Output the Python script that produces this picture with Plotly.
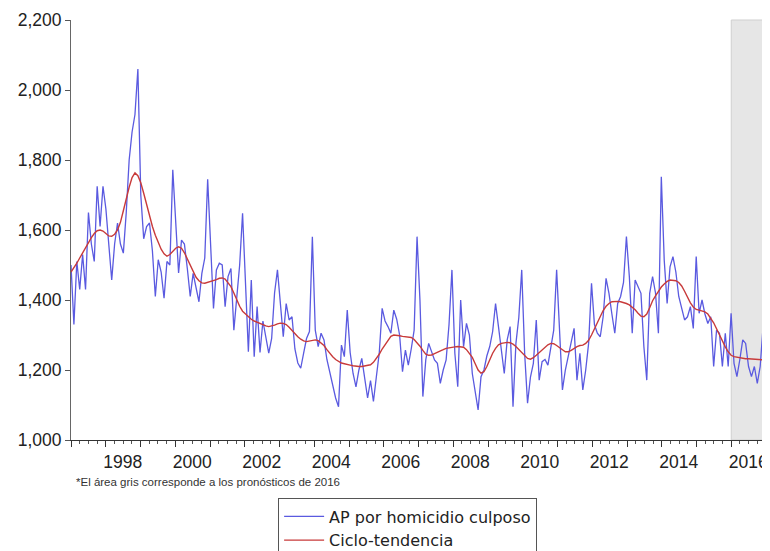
import plotly.graph_objects as go

# Monthly data, Jan 1997 - Dec 2016
years = list(range(1997, 2017))

ap_homicidio = {
    1997: [1500, 1330, 1510, 1430, 1530, 1430, 1650, 1560, 1510, 1725, 1610, 1725],
    1998: [1660, 1560, 1457, 1560, 1620, 1560, 1534, 1650, 1800, 1880, 1930, 2060],
    1999: [1700, 1575, 1610, 1620, 1540, 1410, 1515, 1480, 1405, 1510, 1500, 1772],
    2000: [1620, 1477, 1571, 1560, 1490, 1410, 1476, 1440, 1395, 1476, 1520, 1745],
    2001: [1550, 1376, 1486, 1505, 1500, 1381, 1467, 1490, 1314, 1400, 1500, 1648],
    2002: [1450, 1252, 1457, 1238, 1381, 1250, 1340, 1290, 1248, 1290, 1420, 1486],
    2003: [1380, 1295, 1390, 1343, 1352, 1260, 1220, 1205, 1248, 1290, 1310, 1581],
    2004: [1314, 1267, 1305, 1286, 1230, 1190, 1150, 1120, 1095, 1271, 1238, 1371],
    2005: [1250, 1190, 1152, 1200, 1233, 1180, 1120, 1170, 1110, 1180, 1248, 1376],
    2006: [1340, 1324, 1305, 1371, 1345, 1300, 1195, 1257, 1214, 1260, 1314, 1581],
    2007: [1400, 1124, 1229, 1276, 1250, 1229, 1219, 1162, 1200, 1229, 1330, 1486],
    2008: [1248, 1152, 1400, 1267, 1333, 1300, 1190, 1133, 1086, 1181, 1200, 1240],
    2009: [1267, 1310, 1390, 1324, 1260, 1190, 1286, 1324, 1095, 1276, 1350, 1486],
    2010: [1248, 1105, 1180, 1219, 1343, 1171, 1224, 1230, 1214, 1260, 1314, 1486],
    2011: [1295, 1143, 1200, 1238, 1276, 1319, 1171, 1248, 1143, 1200, 1276, 1448],
    2012: [1330, 1305, 1295, 1352, 1462, 1419, 1360, 1305, 1390, 1410, 1450, 1581],
    2013: [1467, 1305, 1457, 1440, 1419, 1267, 1171, 1419, 1467, 1420, 1305, 1752],
    2014: [1514, 1390, 1495, 1524, 1480, 1410, 1380, 1343, 1352, 1381, 1319, 1524],
    2015: [1362, 1400, 1360, 1333, 1352, 1210, 1314, 1305, 1210, 1305, 1210, 1362],
    2016: [1219, 1181, 1230, 1286, 1276, 1210, 1181, 1210, 1162, 1210, 1324, 1400],
}

ciclo_tendencia = {
    1997: [1480, 1492, 1505, 1520, 1535, 1550, 1565, 1578, 1590, 1598, 1600, 1597],
    1998: [1590, 1583, 1582, 1588, 1600, 1622, 1655, 1690, 1722, 1750, 1763, 1755],
    1999: [1735, 1705, 1672, 1640, 1610, 1585, 1562, 1545, 1532, 1525, 1530, 1540],
    2000: [1548, 1552, 1548, 1535, 1518, 1498, 1480, 1465, 1455, 1449, 1448, 1450],
    2001: [1452, 1455, 1458, 1462, 1463, 1460, 1450, 1438, 1420, 1400, 1382, 1368],
    2002: [1360, 1352, 1345, 1340, 1336, 1332, 1329, 1326, 1324, 1325, 1328, 1332],
    2003: [1334, 1333, 1330, 1322, 1312, 1303, 1295, 1288, 1283, 1281, 1282, 1285],
    2004: [1286, 1284, 1278, 1270, 1258, 1247, 1238, 1230, 1224, 1220, 1218, 1215],
    2005: [1214, 1212, 1210, 1210, 1210, 1211, 1212, 1215, 1222, 1232, 1245, 1260],
    2006: [1272, 1285, 1296, 1300, 1300, 1298, 1296, 1295, 1295, 1293, 1287, 1278],
    2007: [1268, 1256, 1245, 1242, 1243, 1247, 1250, 1254, 1258, 1262, 1264, 1265],
    2008: [1266, 1267, 1267, 1265, 1258, 1248, 1236, 1218, 1200, 1191, 1195, 1210],
    2009: [1230, 1248, 1262, 1272, 1276, 1278, 1279, 1278, 1274, 1267, 1258, 1248],
    2010: [1240, 1233, 1231, 1235, 1242, 1250, 1258, 1265, 1272, 1276, 1275, 1270],
    2011: [1265, 1258, 1252, 1252, 1256, 1262, 1267, 1270, 1271, 1276, 1285, 1300],
    2012: [1318, 1336, 1355, 1370, 1382, 1390, 1395, 1396, 1396, 1395, 1393, 1390],
    2013: [1386, 1380, 1372, 1362, 1354, 1352, 1360, 1378, 1398, 1412, 1425, 1437],
    2014: [1446, 1453, 1457, 1457, 1455, 1450, 1440, 1425, 1408, 1392, 1380, 1373],
    2015: [1371, 1369, 1366, 1360, 1348, 1335, 1318, 1300, 1282, 1266, 1252, 1242],
    2016: [1238, 1236, 1234, 1233, 1232, 1232, 1231, 1230, 1230, 1229, 1229, 1230],
}

forecast_start = 2016
year_tick_labels = ["" if y % 2 else str(y) for y in years]
footnote = "*El área gris corresponde a los pronósticos de 2016"

blue_vals = [v for y in years for v in ap_homicidio[y]]
red_vals = [v for y in years for v in ciclo_tendencia[y]]
n = len(blue_vals)
x_start, x_end = years[0], years[-1] + 1
# observations spread edge-to-edge over the axis (EViews style)
xs = [x_start + i * (x_end - x_start) / (n - 1) for i in range(n)]

FONT = "Liberation Sans, Arial, sans-serif"

fig = go.Figure()
fig.add_trace(go.Scatter(x=xs, y=blue_vals, mode="lines",
                         name="AP por homicidio culposo",
                         line=dict(color="#5a5ae0", width=1.3)))
fig.add_trace(go.Scatter(x=xs, y=red_vals, mode="lines",
                         name="Ciclo-tendencia",
                         line=dict(color="#c83a3a", width=1.4)))

fig.add_shape(type="rect", xref="x", yref="paper",
              x0=forecast_start, x1=x_end, y0=0, y1=1,
              fillcolor="#e6e6e6", line=dict(color="#cfcfcf", width=1),
              layer="below")

fig.add_annotation(text=footnote, xref="paper", yref="paper",
                   x=0.005, y=-0.099, xanchor="left", yanchor="middle",
                   showarrow=False, font=dict(family=FONT, size=11.5, color="#333"))

fig.update_layout(
    width=762, height=543,
    margin=dict(l=63, r=4, t=12, b=111, autoexpand=False),
    paper_bgcolor="white", plot_bgcolor="white",
    font=dict(family=FONT, size=17.5, color="#222"),
    showlegend=True,
    legend=dict(x=0.298, y=-0.139, xanchor="left", yanchor="top",
                orientation="v", bordercolor="#555", borderwidth=1,
                font=dict(family="DejaVu Sans, Liberation Sans, sans-serif",
                          size=16, color="#222"),
                bgcolor="white", tracegroupgap=0, itemwidth=40),
    xaxis=dict(range=[x_start, x_end], tickmode="array",
               tickvals=years, ticktext=year_tick_labels,
               ticklabelshift=17, ticks="outside", ticklen=6, tickcolor="#333",
               showline=True, linecolor="#333", linewidth=1,
               showgrid=False, zeroline=False,
               minor=dict(dtick=0.25, tick0=x_start, ticks="outside",
                          ticklen=3, tickcolor="#555", showgrid=False),
               tickfont=dict(size=17.5)),
    yaxis=dict(range=[1000, 2200], dtick=200, tickformat=",",
               ticks="outside", ticklen=5, tickcolor="#555",
               showline=True, linecolor="#666", linewidth=1,
               showgrid=False, zeroline=False, tickfont=dict(size=17.5)),
)

fig.write_html("out.html")
